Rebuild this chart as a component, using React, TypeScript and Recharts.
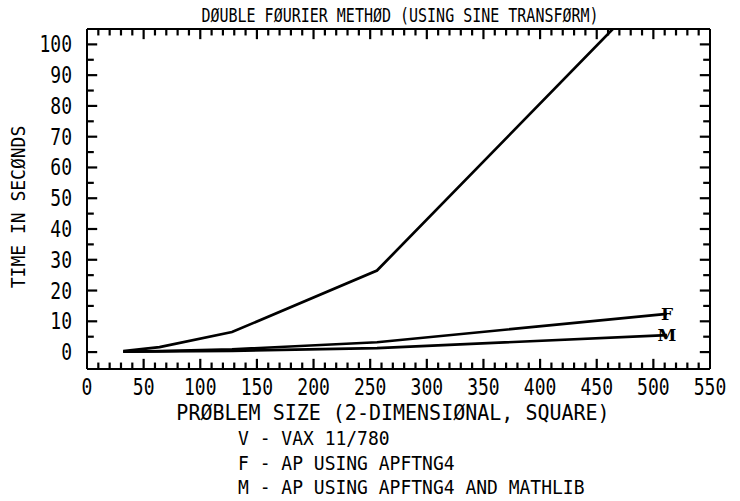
import React from "react";
import { LineChart, Line, XAxis, YAxis, LabelList, ReferenceLine } from "recharts";

const problemSizes = [32, 64, 128, 256, 512];
const vaxSeconds = [0.3, 1.6, 6.5, 26.5, 123];
const apftnSeconds = [0.1, 0.3, 0.9, 3.2, 12.4];
const mathlibSeconds = [0.1, 0.2, 0.4, 1.3, 5.5];

const xMajorTicks = [0, 50, 100, 150, 200, 250, 300, 350, 400, 450, 500, 550];
const xTicks = Array.from({ length: 56 }, (_, i) => i * 10);
const yMajorTicks = [0, 10, 20, 30, 40, 50, 60, 70, 80, 90, 100];
const yTicks = Array.from({ length: 21 }, (_, i) => i * 5);

const X_MIN = 0;
const X_MAX = 550;
const Y_MIN = -5.5;
const Y_MAX = 105;

const titleText = "DØUBLE FØURIER METHØD (USING SINE TRANSFØRM)";
const xLabelText = "PRØBLEM SIZE (2-DIMENSIØNAL, SQUARE)";
const yLabelText = "TIME IN SECØNDS";
const legendLines = [
  "V - VAX 11/780",
  "F - AP USING APFTNG4",
  "M - AP USING APFTNG4 AND MATHLIB",
];

const data = problemSizes.map((n, i) => ({
  n,
  V: vaxSeconds[i],
  F: apftnSeconds[i],
  M: mathlibSeconds[i],
}));

const FONT = "DejaVu Sans Mono";
const INK = "#000";

// inward tick lengths, in data units of the perpendicular axis
const X_TICK_MAJOR = 3.3; // y-units (~10px)
const X_TICK_MINOR = 2.1; // (~6.5px)
const Y_TICK_MAJOR = 9; // x-units (~10px)
const Y_TICK_MINOR = 6; // (~7px)

const BottomTick = (props: any) => {
  const { x, y, payload } = props;
  const v = payload.value;
  if (!xMajorTicks.includes(v)) return <g />;
  return (
    <text
      transform={`translate(${x},${y + 26}) scale(0.9,1.15)`}
      textAnchor="middle"
      fontFamily={FONT}
      fontSize={20}
      fill={INK}
    >
      {v}
    </text>
  );
};

const LeftTick = (props: any) => {
  const { x, y, payload } = props;
  const v = payload.value;
  if (!yMajorTicks.includes(v)) return <g />;
  return (
    <text
      transform={`translate(${x - 15},${y + 8}) scale(0.9,1.15)`}
      textAnchor="end"
      fontFamily={FONT}
      fontSize={20}
      fill={INK}
    >
      {v}
    </text>
  );
};

const NoTick = () => <g />;

const endLabel = (letter: string, lastValue: number) => (p: any) => {
  const isLast = p.index === problemSizes.length - 1 || p.value === lastValue;
  if (!isLast) return null;
  return (
    <text
      x={p.x}
      y={p.y + 6}
      textAnchor="middle"
      fontFamily="DejaVu Serif"
      fontWeight="bold"
      fontSize={17}
      fill={INK}
    >
      {letter}
    </text>
  );
};

const axisLine = { stroke: INK, strokeWidth: 2 };
const tickStroke = { stroke: INK, strokeWidth: 2.2 };

export default function App() {
  const xTickLines = xTicks.filter((v) => v > X_MIN && v < X_MAX).flatMap((v) => {
    const len = xMajorTicks.includes(v) ? X_TICK_MAJOR : X_TICK_MINOR;
    return [
      <ReferenceLine
        key={`xb${v}`}
        xAxisId="b"
        yAxisId="l"
        ifOverflow="visible"
        segment={[{ x: v, y: Y_MIN }, { x: v, y: Y_MIN + len }]}
        {...tickStroke}
      />,
      <ReferenceLine
        key={`xt${v}`}
        xAxisId="b"
        yAxisId="l"
        ifOverflow="visible"
        segment={[{ x: v, y: Y_MAX }, { x: v, y: Y_MAX - len }]}
        {...tickStroke}
      />,
    ];
  });
  const yTickLines = yTicks.flatMap((v) => {
    const len = yMajorTicks.includes(v) ? Y_TICK_MAJOR : Y_TICK_MINOR;
    return [
      <ReferenceLine
        key={`yl${v}`}
        xAxisId="b"
        yAxisId="l"
        ifOverflow="visible"
        segment={[{ x: X_MIN, y: v }, { x: X_MIN + len, y: v }]}
        {...tickStroke}
      />,
      <ReferenceLine
        key={`yr${v}`}
        xAxisId="b"
        yAxisId="l"
        ifOverflow="visible"
        segment={[{ x: X_MAX, y: v }, { x: X_MAX - len, y: v }]}
        {...tickStroke}
      />,
    ];
  });

  return (
    <div style={{ position: "absolute", left: 0, top: 0, width: 740, height: 501, background: "#fff" }}>
      <LineChart width={740} height={501} data={data} margin={{ top: 28, right: 29, bottom: 0, left: 0 }}>
        <XAxis
          xAxisId="b"
          dataKey="n"
          type="number"
          domain={[X_MIN, X_MAX]}
          ticks={xTicks}
          interval={0}
          height={132}
          tickSize={0}
          tickMargin={0}
          tickLine={false}
          axisLine={axisLine}
          tick={<BottomTick />}
          allowDataOverflow
        />
        <XAxis
          xAxisId="t"
          orientation="top"
          dataKey="n"
          type="number"
          domain={[X_MIN, X_MAX]}
          ticks={xMajorTicks}
          height={1}
          tickSize={0}
          tickLine={false}
          axisLine={axisLine}
          tick={<NoTick />}
          allowDataOverflow
        />
        <YAxis
          yAxisId="l"
          type="number"
          domain={[Y_MIN, Y_MAX]}
          ticks={yTicks}
          interval={0}
          width={87}
          tickSize={0}
          tickMargin={0}
          tickLine={false}
          axisLine={axisLine}
          tick={<LeftTick />}
          allowDataOverflow
        />
        <YAxis
          yAxisId="r"
          orientation="right"
          type="number"
          domain={[Y_MIN, Y_MAX]}
          ticks={yMajorTicks}
          width={1}
          tickSize={0}
          tickLine={false}
          axisLine={axisLine}
          tick={<NoTick />}
          allowDataOverflow
        />
        {xTickLines}
        {yTickLines}
        <Line xAxisId="b" yAxisId="l" type="linear" dataKey="V" stroke={INK} strokeWidth={2.7} dot={false} isAnimationActive={false} />
        <Line xAxisId="b" yAxisId="l" type="linear" dataKey="F" stroke={INK} strokeWidth={2.7} dot={false} isAnimationActive={false}>
          <LabelList dataKey="F" content={endLabel("F", apftnSeconds[apftnSeconds.length - 1])} />
        </Line>
        <Line xAxisId="b" yAxisId="l" type="linear" dataKey="M" stroke={INK} strokeWidth={2.7} dot={false} isAnimationActive={false}>
          <LabelList dataKey="M" content={endLabel("M", mathlibSeconds[mathlibSeconds.length - 1])} />
        </Line>
      </LineChart>
      <svg width={740} height={501} style={{ position: "absolute", left: 0, top: 0, pointerEvents: "none" }}>
        <text
          transform="translate(400,22) scale(1,1.25)"
          textAnchor="middle"
          fontFamily={FONT}
          fontSize={15}
          fill={INK}
        >
          {titleText}
        </text>
        <text
          transform="translate(393,420) scale(1,1.1)"
          textAnchor="middle"
          fontFamily={FONT}
          fontSize={20}
          fill={INK}
        >
          {xLabelText}
        </text>
        <text
          transform="translate(25,207) rotate(-90) scale(1,1.1)"
          textAnchor="middle"
          fontFamily={FONT}
          fontSize={18}
          fill={INK}
        >
          {yLabelText}
        </text>
        {legendLines.map((t, i) => (
          <text
            key={t}
            transform={`translate(238,${445 + i * 24.5}) scale(1,1.1)`}
            fontFamily={FONT}
            fontSize={18}
            fill={INK}
            xmlSpace="preserve"
          >
            {t}
          </text>
        ))}
      </svg>
    </div>
  );
}
